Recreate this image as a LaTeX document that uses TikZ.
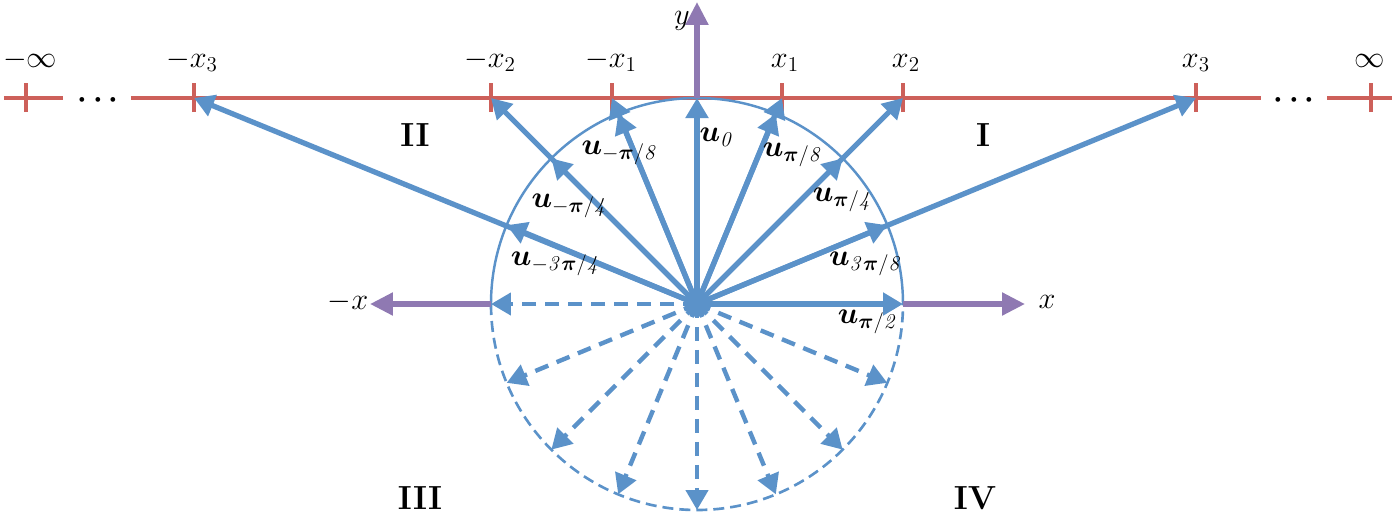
\documentclass[tikz,border=0pt]{standalone}
\usepackage{bm}
\usetikzlibrary{arrows.meta}
\definecolor{rayblue}{RGB}{91,146,201}
\definecolor{linered}{RGB}{205,96,90}
\definecolor{axispurple}{RGB}{143,121,178}
\tikzset{
	ray/.style={line width=3pt, color=rayblue, -{Triangle[length=0.4cm,width=0.44cm]}},
	dashray/.style={ray, line width=2.5pt, dash pattern=on 0.28cm off 0.18cm},
	axisline/.style={line width=3pt, color=axispurple, -{Triangle[length=0.46cm,width=0.44cm]}},
	redline/.style={line width=2.1pt, color=linered},
	lbl/.style={font=\fontsize{17}{19}\selectfont, inner sep=1pt},
	region/.style={font=\fontsize{19}{21}\selectfont\bfseries, inner sep=1pt},
}

\begin{document}
\begin{tikzpicture}[x=0.02cm, y=0.02cm]
			%%%%% START %%%%%
			\useasboundingbox (-697, -211) rectangle (695, 304);
			
			\coordinate (O) at (0, 0);
			
			% red line with ticks
			\draw[redline] (-693, 206) -- (-634, 206);
			\draw[redline] (-566, 206) -- (564, 206);
			\draw[redline] (630, 206) -- (695, 206);
			\node[lbl] (dotsl) at (-599, 204) {$\bm{\cdots}$};
			\node[lbl] (dotsr) at (597, 204) {$\bm{\cdots}$};
			
			\draw[redline] (-671, 192) -- (-671, 221);
			\draw[redline] (-503, 192) -- (-503, 221);
			\draw[redline] (-206, 192) -- (-206, 221);
			\draw[redline] (-85, 192) -- (-85, 221);
			\draw[redline] (85, 192) -- (85, 221);
			\draw[redline] (206, 192) -- (206, 221);
			\draw[redline] (499, 192) -- (499, 221);
			\draw[redline] (674, 192) -- (674, 221);
			
			\node[lbl, anchor=base] (minf) at (-667, 237) {$-\infty$};
			\node[lbl, anchor=base] (mx3) at (-505, 237) {$-x_3$};
			\node[lbl, anchor=base] (mx2) at (-207, 237) {$-x_2$};
			\node[lbl, anchor=base] (mx1) at (-86, 237) {$-x_1$};
			\node[lbl, anchor=base] (px1) at (88, 237) {$x_1$};
			\node[lbl, anchor=base] (px2) at (209, 237) {$x_2$};
			\node[lbl, anchor=base] (px3) at (499, 237) {$x_3$};
			\node[lbl, anchor=base] (pinf) at (673, 237) {$\infty$};
			
			% circle
			\draw[line width=1.4pt, color=rayblue] (206, 0) arc (0:180:206);
			\draw[line width=1.5pt, color=rayblue, dash pattern=on 0.22cm off 0.12cm] (-206, 0) arc (180:360:206);
			
			% axes
			\draw[axisline] (206, 0) -- (328, 0);
			\draw[axisline] (-206, 0) -- (-327, 0);
			\draw[axisline] (0, 206) -- (0, 302);
			\node[lbl] (xlab) at (350, 2) {$x$};
			\node[lbl] (mxlab) at (-349, 2) {$-x$};
			\node[lbl] (ylab) at (-15, 283) {$y$};
			
			% end points on the red line
			\coordinate (e0) at (0, 206);
			\coordinate (e1) at (85, 206);
			\coordinate (e2) at (206, 206);
			\coordinate (e3) at (499, 206);
			\coordinate (f1) at (-85, 206);
			\coordinate (f2) at (-206, 206);
			\coordinate (f3) at (-503, 206);
			
			% solid rays
			\draw[ray] (O) -- (e0);
			\draw[ray] (O) -- (e1);
			\draw[ray] (O) -- (67.5:206);
			\draw[ray] (O) -- (e2);
			\draw[ray] (O) -- (45:206);
			\draw[ray] (O) -- (e3);
			\draw[ray] (O) -- (22.5:206);
			\draw[ray] (O) -- (f1);
			\draw[ray] (O) -- (112.5:206);
			\draw[ray] (O) -- (f2);
			\draw[ray] (O) -- (135:206);
			\draw[ray] (O) -- (f3);
			\draw[ray] (O) -- (157.5:206);
			\draw[ray] (O) -- (0:206);
			
			% dashed rays
			\draw[dashray] (O) -- (180:206);
			\draw[dashray] (O) -- (202.5:206);
			\draw[dashray] (O) -- (225:206);
			\draw[dashray] (O) -- (247.5:206);
			\draw[dashray] (O) -- (270:206);
			\draw[dashray] (O) -- (292.5:206);
			\draw[dashray] (O) -- (315:206);
			\draw[dashray] (O) -- (337.5:206);
			
			\fill[rayblue] (O) circle (13);
			
			% vector labels
			\node[lbl] (u0) at (20, 167) {$\bm{u}_{\mathit{0}}$};
			\node[lbl] (um1) at (-77, 151) {$\bm{u}_{-\bm{\pi}\mathit{/8}}$};
			\node[lbl] (up1) at (96, 149) {$\bm{u}_{\bm{\pi}\mathit{/8}}$};
			\node[lbl] (um2) at (-127, 98) {$\bm{u}_{-\bm{\pi}\mathit{/4}}$};
			\node[lbl] (up2) at (146, 104) {$\bm{u}_{\bm{\pi}\mathit{/4}}$};
			\node[lbl] (um3) at (-141, 40) {$\bm{u}_{-\mathit{3}\bm{\pi}\mathit{/4}}$};
			\node[lbl] (up3) at (169, 40) {$\bm{u}_{\mathit{3}\bm{\pi}\mathit{/8}}$};
			\node[lbl] (up4) at (171, -18) {$\bm{u}_{\bm{\pi}\mathit{/2}}$};
			
			% regions
			\node[region] (rII) at (-282, 169) {II};
			\node[region] (rI) at (286, 169) {I};
			\node[region] (rIII) at (-277, -194) {III};
			\node[region] (rIV) at (278, -194) {IV};
			%%%%% END %%%%%
		\end{tikzpicture}
\end{document}
